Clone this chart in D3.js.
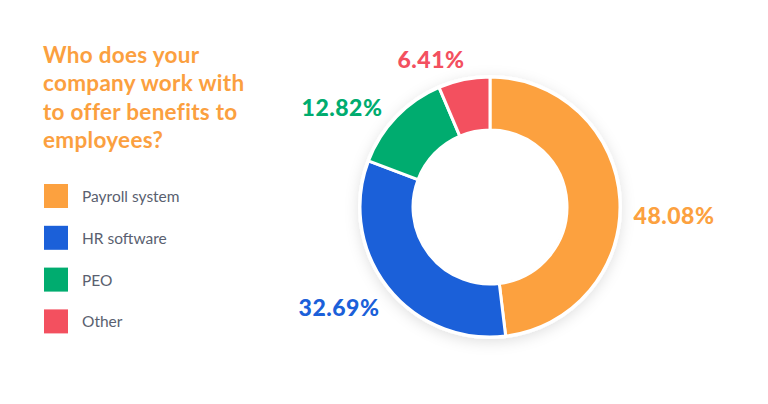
<!DOCTYPE html>
<html><head><meta charset="utf-8">
<script src="https://cdn.jsdelivr.net/npm/d3@7"></script>
<style>body{margin:0;background:#fff;}svg{display:block;}</style>
</head><body>
<script>
const titleLines = ["Who does your", "company work with", "to offer benefits to", "employees?"];
const categories = ["Payroll system", "HR software", "PEO", "Other"];
const values = [48.08, 32.69, 12.82, 6.41];
const labels = ["48.08%", "32.69%", "12.82%", "6.41%"];
const colors = ["#FCA13F", "#1B60D9", "#00AC6F", "#F3505F"];

const W = 768, H = 404;
const svg = d3.select("body").append("svg").attr("width", W).attr("height", H);
const defs = svg.append("defs");
const f = defs.append("filter").attr("id", "sh").attr("x", "-30%").attr("y", "-30%").attr("width", "160%").attr("height", "160%");
f.append("feDropShadow").attr("dx", 0).attr("dy", 3).attr("stdDeviation", 7).attr("flood-color", "#000").attr("flood-opacity", 0.12);

// Title
const t = svg.append("text").attr("x", 43).attr("y", 63)
  .attr("font-family", "Lato, 'Open Sans', sans-serif").attr("font-weight", 700)
  .attr("font-size", 22.5).attr("letter-spacing", 0.3).attr("fill", "#FBA03F");
titleLines.forEach((l, i) => t.append("tspan").attr("x", 43).attr("dy", i ? 28.3 : 0).text(l));

// Legend
const lg = svg.append("g");
categories.forEach((c, i) => {
  const y = 184 + i * 41.8;
  lg.append("rect").attr("x", 44).attr("y", y).attr("width", 24).attr("height", 24).attr("fill", colors[i]);
  lg.append("text").attr("x", 82).attr("y", y + 18).attr("font-family", "Lato, 'Open Sans', sans-serif")
    .attr("font-size", 15.5).attr("fill", "#5A5F70").text(c);
});

// Donut
const cx = 490, cy = 207, R = 130, r = 77;
const pie = d3.pie().sort(null).value(d => d)(values);
const arc = d3.arc().innerRadius(r).outerRadius(R);
const g = svg.append("g").attr("transform", `translate(${cx},${cy})`);
g.append("circle").attr("r", R + 2).attr("fill", "#fff").attr("filter", "url(#sh)");
g.append("circle").attr("r", r - 2).attr("fill", "#fff").attr("filter", "url(#sh)");
g.selectAll("path").data(pie).enter().append("path").attr("d", arc)
  .attr("fill", (d, i) => colors[i]).attr("stroke", "#fff").attr("stroke-width", 3).attr("stroke-linejoin", "round");
g.append("circle").attr("r", r - 1).attr("fill", "#fff");

// Labels
const labelPos = [[674, 224], [339, 316], [342, 116], [431, 68]];
labels.forEach((l, i) => {
  svg.append("text").attr("x", labelPos[i][0]).attr("y", labelPos[i][1]).attr("text-anchor", "middle")
    .attr("font-family", "Lato, 'Open Sans', sans-serif").attr("font-weight", 900)
    .attr("font-size", 23).attr("letter-spacing", 0.5).attr("fill", colors[i]).text(l);
});
</script>
</body></html>
